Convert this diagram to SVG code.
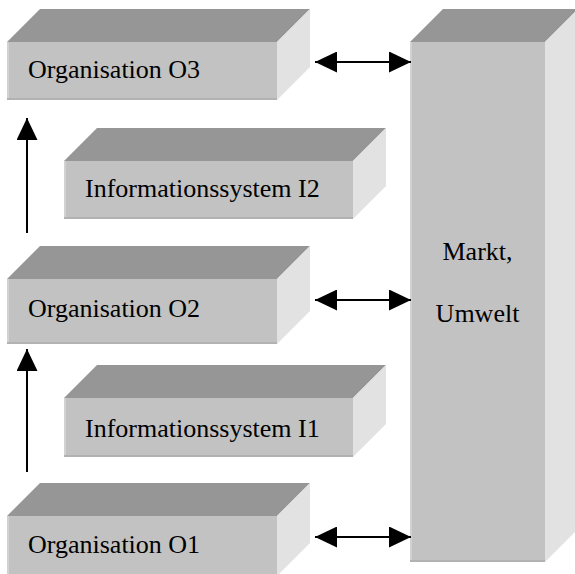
<svg xmlns="http://www.w3.org/2000/svg" width="575" height="574" viewBox="0 0 575 574">
<style>
.top{fill:#969696}
.front{fill:#c2c2c2}
.side{fill:#e2e2e2}
.edgeL{fill:#d2d2d2}
.edgeB{fill:#b2b2b2}
.lbl{font-family:"Liberation Serif","Times New Roman",serif;font-size:26px;fill:#000}
.conn{stroke:#000;stroke-width:2;fill:none}
</style>
<defs>
<marker id="ah" viewBox="0 0 22 21" refX="22" refY="10.5" markerWidth="22" markerHeight="21" markerUnits="userSpaceOnUse" orient="auto-start-reverse">
<path d="M0,0 L22,10.5 L0,21 z" fill="#000"/>
</marker>
</defs>
<rect width="575" height="574" fill="#fff"/>
<g id="markt">
<polygon class="top" points="410,42 443,9 578,9 545,42"/>
<polygon class="side" points="545,42 578,9 578,529 545,562"/>
<rect class="front" x="410" y="42" width="135" height="520"/>
<rect class="edgeL" x="410" y="42" width="2" height="520"/>
<rect class="edgeB" x="410" y="560" width="135" height="2"/>
<text class="lbl" x="477.5" y="260" text-anchor="middle">Markt,</text>
<text class="lbl" x="477.5" y="322" text-anchor="middle">Umwelt</text>
</g>
<g id="o3">
<polygon class="top" points="7,42 40,9 310,9 277,42"/>
<polygon class="side" points="277,42 310,9 310,67 277,100"/>
<rect class="front" x="7" y="42" width="270" height="58"/>
<rect class="edgeL" x="7" y="42" width="2" height="58"/>
<rect class="edgeB" x="7" y="98" width="270" height="2"/>
<text class="lbl" x="28" y="78">Organisation O3</text>
</g>
<g id="i2">
<polygon class="top" points="64,161 97,128 386,128 353,161"/>
<polygon class="side" points="353,161 386,128 386,186 353,219"/>
<rect class="front" x="64" y="161" width="289" height="58"/>
<rect class="edgeL" x="64" y="161" width="2" height="58"/>
<rect class="edgeB" x="64" y="217" width="289" height="2"/>
<text class="lbl" x="85" y="197">Informationssystem I2</text>
</g>
<g id="o2">
<polygon class="top" points="7,279 40,246 310,246 277,279"/>
<polygon class="side" points="277,279 310,246 310,311 277,344"/>
<rect class="front" x="7" y="279" width="270" height="65"/>
<rect class="edgeL" x="7" y="279" width="2" height="65"/>
<rect class="edgeB" x="7" y="342" width="270" height="2"/>
<text class="lbl" x="28" y="317">Organisation O2</text>
</g>
<g id="i1">
<polygon class="top" points="64,398 97,365 386,365 353,398"/>
<polygon class="side" points="353,398 386,365 386,424 353,457"/>
<rect class="front" x="64" y="398" width="289" height="59"/>
<rect class="edgeL" x="64" y="398" width="2" height="59"/>
<rect class="edgeB" x="64" y="455" width="289" height="2"/>
<text class="lbl" x="85" y="437">Informationssystem I1</text>
</g>
<g id="o1">
<polygon class="top" points="7,516 40,483 310,483 277,516"/>
<polygon class="side" points="277,516 310,483 310,543 277,576"/>
<rect class="front" x="7" y="516" width="270" height="60"/>
<rect class="edgeL" x="7" y="516" width="2" height="60"/>
<text class="lbl" x="28" y="553">Organisation O1</text>
</g>
<g id="connectors">
<line class="conn" x1="27" y1="233" x2="27" y2="118" marker-end="url(#ah)"/>
<line class="conn" x1="27" y1="472" x2="27" y2="349" marker-end="url(#ah)"/>
<line class="conn" x1="315" y1="62" x2="411" y2="62" marker-start="url(#ah)" marker-end="url(#ah)"/>
<line class="conn" x1="315" y1="300" x2="411" y2="300" marker-start="url(#ah)" marker-end="url(#ah)"/>
<line class="conn" x1="315" y1="537" x2="411" y2="537" marker-start="url(#ah)" marker-end="url(#ah)"/>
</g>
</svg>
